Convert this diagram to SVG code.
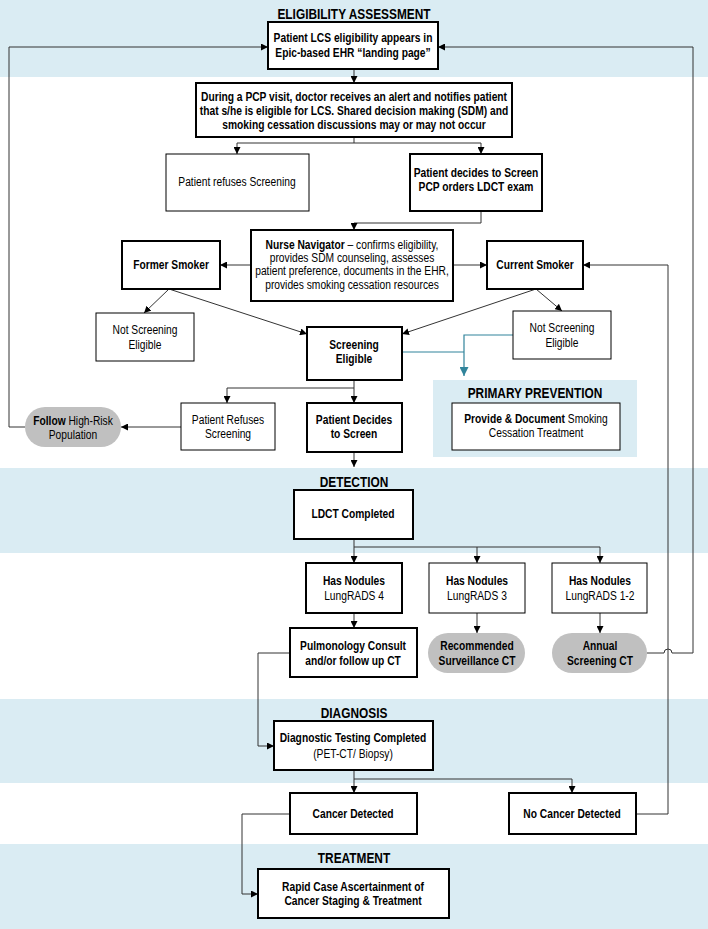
<svg xmlns="http://www.w3.org/2000/svg" width="708" height="929" viewBox="0 0 708 929">
<defs>
<marker id="ah" viewBox="0 0 10 10" refX="10" refY="5" markerWidth="7" markerHeight="7" markerUnits="userSpaceOnUse" orient="auto"><path d="M0,0 L10,5 L0,10 z" fill="#000"/></marker>
<marker id="aht" viewBox="0 0 10 10" refX="10" refY="5" markerWidth="9" markerHeight="9" markerUnits="userSpaceOnUse" orient="auto"><path d="M0,0 L10,5 L0,10 z" fill="#31849b"/></marker>
</defs>
<style>
.band{fill:#daecf3}
.b{fill:#fff;stroke:#000;stroke-width:2}
.t{fill:#fff;stroke:#000;stroke-width:1}
.pill{fill:#c0c0c0}
text{font-family:"Liberation Sans Narrow","Liberation Sans",Arial,sans-serif;font-size:12.5px;text-anchor:middle;fill:#000;transform-box:fill-box;transform-origin:50% 50%;transform:scaleX(0.82)}
.bd{font-weight:bold}
.ttl{font-weight:bold;font-size:14.5px}
.c{fill:none;stroke:#333;stroke-width:1;marker-end:url(#ah)}
.teal{fill:none;stroke:#31849b;stroke-width:1.2}
</style>
<rect width="708" height="929" fill="#fff"/>
<g id="bands">
<rect class="band" x="0" y="0" width="708" height="77"/>
<rect class="band" x="0" y="468" width="708" height="85"/>
<rect class="band" x="0" y="699" width="708" height="84"/>
<rect class="band" x="0" y="844" width="708" height="85"/>
<rect class="band" x="433" y="380" width="204" height="77"/>
</g>
<g id="titles">
<text class="ttl" x="354" y="19">ELIGIBILITY ASSESSMENT</text>
<text class="ttl" x="354" y="487">DETECTION</text>
<text class="ttl" x="354" y="718">DIAGNOSIS</text>
<text class="ttl" x="354" y="863">TREATMENT</text>
<text class="ttl" x="535" y="398">PRIMARY PREVENTION</text>
</g>
<g id="connectors">
<path class="c" d="M354,69 V83"/>
<path class="c" d="M354,137 V143 H237 V154"/>
<path class="c" d="M354,143 H481 V154"/>
<path class="c" d="M481,211 V223 H354 V230"/>
<path class="c" d="M251,265 H220"/>
<path class="c" d="M453,265 H487"/>
<path class="c" d="M169,289 L144,313"/>
<path class="c" d="M169,289 L307,334"/>
<path class="c" d="M536,289 L562,311"/>
<path class="c" d="M536,289 L402,334"/>
<path class="teal" d="M402,352 H464"/>
<path class="teal" d="M513,335 H464 V376" marker-end="url(#aht)"/>
<path class="c" d="M354,380 V388 H227 V403"/>
<path class="c" d="M354,388 V403"/>
<path class="c" d="M181,427 H121"/>
<path class="c" d="M25,427 H9 V47 H268"/>
<path class="c" d="M354,452 V467"/>
<path class="c" d="M354,539 V547 H600 V563"/>
<path class="c" d="M354,547 V563"/>
<path class="c" d="M477,547 V563"/>
<path class="c" d="M354,613 V628"/>
<path class="c" d="M477,613 V633"/>
<path class="c" d="M600,613 V633"/>
<path class="c" d="M290,653 H258 V746 H274"/>
<path class="c" d="M647,653 H664 A4,4 0 0 1 672,653 H693 V47 H438"/>
<path class="c" d="M354,770 V779 H572 V793"/>
<path class="c" d="M354,779 V793"/>
<path class="c" d="M290,814 H242 V894 H258"/>
<path class="c" d="M636,814 H668 V265 H583"/>
</g>
<g id="n-landing"><rect class="b" x="268" y="22" width="170" height="47"/>
<text class="bd" x="353" y="42">Patient LCS eligibility appears in</text>
<text class="bd" x="353" y="57">Epic-based EHR “landing page”</text></g>
<g id="n-pcp"><rect class="b" x="196" y="83" width="316" height="54"/>
<text class="bd" x="354" y="101">During a PCP visit, doctor receives an alert and notifies patient</text>
<text class="bd" x="354" y="115">that s/he is eligible for LCS. Shared decision making (SDM) and</text>
<text class="bd" x="354" y="129">smoking cessation discussions may or may not occur</text></g>
<g id="n-refuses"><rect class="t" x="166" y="154" width="143" height="57"/>
<text x="237" y="186">Patient refuses Screening</text></g>
<g id="n-decides"><rect class="b" x="410" y="154" width="132" height="57"/>
<text class="bd" x="476" y="177">Patient decides to Screen</text>
<text class="bd" x="476" y="191">PCP orders LDCT exam</text></g>
<g id="n-nurse"><rect class="b" x="251" y="230" width="202" height="71"/>
<text x="352" y="249"><tspan class="bd">Nurse Navigator</tspan> – confirms eligibility,</text>
<text x="352" y="262">provides SDM counseling, assesses</text>
<text x="352" y="275">patient preference, documents in the EHR,</text>
<text x="352" y="289">provides smoking cessation resources</text></g>
<g id="n-former"><rect class="b" x="122" y="241" width="98" height="48"/>
<text class="bd" x="171" y="269">Former Smoker</text></g>
<g id="n-current"><rect class="b" x="487" y="241" width="96" height="48"/>
<text class="bd" x="535" y="269">Current Smoker</text></g>
<g id="n-nse-left"><rect class="t" x="96" y="313" width="98" height="48"/>
<text x="145" y="334">Not Screening</text>
<text x="145" y="349">Eligible</text></g>
<g id="n-eligible"><rect class="b" x="307" y="327" width="95" height="53"/>
<text class="bd" x="354" y="349">Screening</text>
<text class="bd" x="354" y="363">Eligible</text></g>
<g id="n-nse-right"><rect class="t" x="513" y="311" width="98" height="48"/>
<text x="562" y="332">Not Screening</text>
<text x="562" y="347">Eligible</text></g>
<g id="n-prevention"><rect class="t" x="452" y="403" width="168" height="47"/>
<text x="536" y="423"><tspan class="bd">Provide &amp; Document</tspan> Smoking</text>
<text x="536" y="437">Cessation Treatment</text></g>
<g id="n-refuses2"><rect class="t" x="181" y="403" width="94" height="47"/>
<text x="228" y="424">Patient Refuses</text>
<text x="228" y="438">Screening</text></g>
<g id="n-decides2"><rect class="b" x="307" y="403" width="95" height="49"/>
<text class="bd" x="354" y="424">Patient Decides</text>
<text class="bd" x="354" y="438">to Screen</text></g>
<g id="n-follow"><rect class="pill" x="25" y="407" width="96" height="40" rx="20"/>
<text x="73" y="425"><tspan class="bd">Follow</tspan> High-Risk</text>
<text x="73" y="439">Population</text></g>
<g id="n-ldct"><rect class="b" x="294" y="490" width="119" height="49"/>
<text class="bd" x="353" y="518">LDCT Completed</text></g>
<g id="n-lr4"><rect class="b" x="306" y="563" width="96" height="50"/>
<text class="bd" x="354" y="585">Has Nodules</text>
<text x="354" y="600">LungRADS 4</text></g>
<g id="n-lr3"><rect class="t" x="429" y="563" width="96" height="50"/>
<text class="bd" x="477" y="585">Has Nodules</text>
<text x="477" y="600">LungRADS 3</text></g>
<g id="n-lr12"><rect class="t" x="552" y="563" width="95" height="50"/>
<text class="bd" x="600" y="585">Has Nodules</text>
<text x="600" y="600">LungRADS 1-2</text></g>
<g id="n-pulm"><rect class="b" x="290" y="628" width="127" height="49"/>
<text class="bd" x="353" y="650">Pulmonology Consult</text>
<text class="bd" x="353" y="665">and/or follow up CT</text></g>
<g id="n-surv"><rect class="pill" x="428" y="633" width="97" height="40" rx="20"/>
<text class="bd" x="477" y="650">Recommended</text>
<text class="bd" x="477" y="665">Surveillance CT</text></g>
<g id="n-annual"><rect class="pill" x="552" y="633" width="95" height="40" rx="20"/>
<text class="bd" x="600" y="650">Annual</text>
<text class="bd" x="600" y="665">Screening CT</text></g>
<g id="n-diag"><rect class="b" x="274" y="721" width="159" height="49"/>
<text class="bd" x="353" y="742">Diagnostic Testing Completed</text>
<text x="353" y="758">(PET-CT/ Biopsy)</text></g>
<g id="n-cancer"><rect class="b" x="290" y="793" width="127" height="41"/>
<text class="bd" x="353" y="818">Cancer Detected</text></g>
<g id="n-nocancer"><rect class="b" x="509" y="793" width="127" height="41"/>
<text class="bd" x="572" y="818">No Cancer Detected</text></g>
<g id="n-rapid"><rect class="b" x="258" y="869" width="191" height="49"/>
<text class="bd" x="353" y="891">Rapid Case Ascertainment of</text>
<text class="bd" x="353" y="905">Cancer Staging &amp; Treatment</text></g>
</svg>
